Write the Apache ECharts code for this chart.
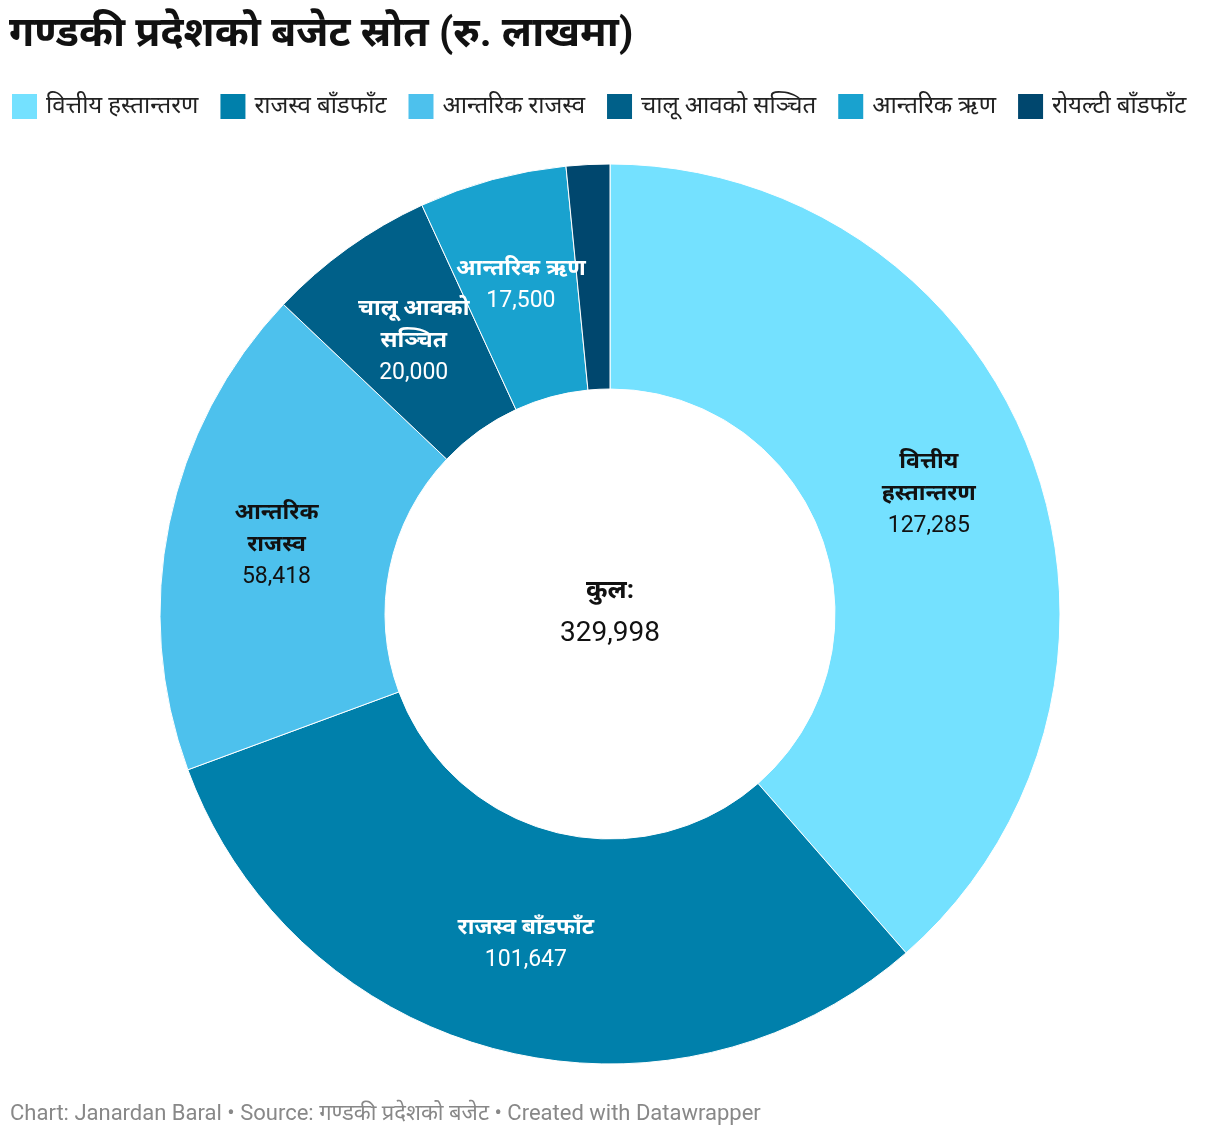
<!DOCTYPE html>
<html>
<head>
<meta charset="utf-8">
<script src="https://cdn.jsdelivr.net/npm/echarts@6/dist/echarts.min.js"></script>
<style>
  html, body { margin: 0; padding: 0; background: #fff; }
  #chart { width: 1220px; height: 1142px; }
</style>
</head>
<body>
<div id="chart"></div>
<script>
// स्रोतहरू (रु. लाखमा)
var categories = ['वित्तीय हस्तान्तरण', 'राजस्व बाँडफाँट', 'आन्तरिक राजस्व', 'चालू आवको सञ्चित', 'आन्तरिक ऋण', 'रोयल्टी बाँडफाँट'];
var labelNames = ['वित्तीय\nहस्तान्तरण', 'राजस्व बाँडफाँट', 'आन्तरिक\nराजस्व', 'चालू आवको\nसञ्चित', 'आन्तरिक ऋण', ''];
var values = [127285, 101647, 58418, 20000, 17500, 5148];
var colors = ['#74e1ff', '#0080ab', '#4dc1ed', '#006089', '#19a2cf', '#00476e'];
var darkText = [true, false, true, false, false, false];

var font = 'Roboto, "Noto Sans", sans-serif';
var total = values.reduce(function (a, b) { return a + b; }, 0);

function fmt(n) {
    return n.toLocaleString('en-US');
}

var data = categories.map(function (c, i) {
    var col = darkText[i] ? '#111' : '#fff';
    return {
        name: c,
        value: values[i],
        itemStyle: { color: colors[i] },
        label: {
            show: labelNames[i] !== '',
            formatter: '{b|' + labelNames[i] + '}\n{v|' + fmt(values[i]) + '}',
            rich: {
                b: { fontFamily: font, fontSize: 23, fontWeight: 'bold', color: col, lineHeight: 32 },
                v: { fontFamily: font, fontSize: 23, color: col, lineHeight: 32 }
            }
        }
    };
});
// चालू आवको सञ्चित को लेबल अलि तल
data[3].label.offset = [2, 4];

var myChart = echarts.init(document.getElementById('chart'));

var option = {
    backgroundColor: '#fff',
    animation: false,
    title: {
        text: 'गण्डकी प्रदेशको बजेट स्रोत (रु. लाखमा)',
        left: 4,
        top: 10,
        textStyle: { fontFamily: font, fontSize: 41, fontWeight: 'bold', color: '#111' }
    },
    legend: {
        data: categories,
        left: 10,
        top: 92,
        padding: 0,
        icon: 'rect',
        itemWidth: 27,
        itemHeight: 27,
        itemGap: 20,
        textStyle: { fontFamily: font, fontSize: 24, color: '#222', padding: [0, 0, 0, 3] }
    },
    graphic: [
        {
            type: 'text',
            left: 'center',
            top: 578,
            style: {
                text: 'कुल:',
                fontFamily: font, fontSize: 26, fontWeight: 'bold', fill: '#111'
            }
        },
        {
            type: 'text',
            left: 'center',
            top: 620,
            style: {
                text: fmt(total),
                fontFamily: font, fontSize: 28, fill: '#111'
            }
        },
        {
            type: 'text',
            left: 10,
            top: 1103,
            style: {
                text: 'Chart: Janardan Baral • Source: गण्डकी प्रदेशको बजेट • Created with Datawrapper',
                fontFamily: font, fontSize: 22, fill: '#888'
            }
        }
    ],
    series: [{
        name: 'बजेट स्रोत',
        type: 'pie',
        center: [610, 614],
        radius: [225, 450],
        startAngle: 90,
        clockwise: true,
        avoidLabelOverlap: false,
        itemStyle: { borderColor: '#fff', borderWidth: 1 },
        label: { position: 'inside', overflow: 'none' },
        labelLine: { show: false },
        labelLayout: { hideOverlap: false, moveOverlap: null },
        emphasis: { disabled: true },
        data: data
    }]
};

myChart.setOption(option);
</script>
</body>
</html>
